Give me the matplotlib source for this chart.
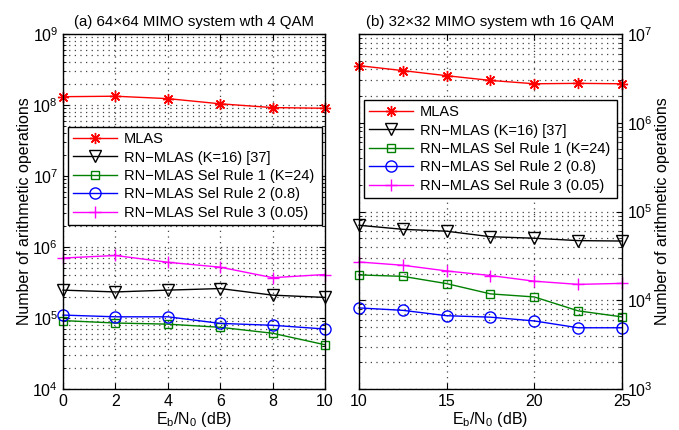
import numpy as np
import matplotlib
matplotlib.use('Agg')
import matplotlib.pyplot as plt
from matplotlib.ticker import LogLocator, LogFormatterMathtext, NullFormatter

plt.rcParams['font.family'] = ['Liberation Sans', 'DejaVu Sans']
plt.rcParams['mathtext.fontset'] = 'custom'
plt.rcParams['mathtext.rm'] = 'Liberation Sans'
plt.rcParams['mathtext.it'] = 'Liberation Sans:italic'

labels = ['MLAS', 'RN\u2212MLAS (K=16) [37]', 'RN\u2212MLAS Sel Rule 1 (K=24)',
          'RN\u2212MLAS Sel Rule 2 (0.8)', 'RN\u2212MLAS Sel Rule 3 (0.05)']

# (a) 64x64, 4-QAM
snr_a = [0, 2, 4, 6, 8, 10]
mlas_a = [1.31e8, 1.33e8, 1.23e8, 1.04e8, 9.2e7, 9.0e7]
rn_a = [2.47e5, 2.33e5, 2.47e5, 2.6e5, 2.1e5, 1.95e5]
rule1_a = [9.2e4, 8.5e4, 8.2e4, 7.4e4, 6.1e4, 4.2e4]
rule2_a = [1.1e5, 1.04e5, 1.04e5, 8.4e4, 7.9e4, 7.0e4]
rule3_a = [7.0e5, 7.6e5, 6.1e5, 5.2e5, 3.7e5, 4.1e5]

# (b) 32x32, 16-QAM
snr_b = [10, 12.5, 15, 17.5, 20, 22.5, 25]
mlas_b = [4.4e6, 3.87e6, 3.39e6, 3.0e6, 2.75e6, 2.78e6, 2.75e6]
rn_b = [7.0e4, 6.3e4, 6.0e4, 5.2e4, 5.0e4, 4.7e4, 4.65e4]
rule1_b = [1.93e4, 1.86e4, 1.54e4, 1.18e4, 1.09e4, 7.6e3, 6.5e3]
rule2_b = [8.2e3, 7.7e3, 6.7e3, 6.45e3, 5.85e3, 4.9e3, 4.9e3]
rule3_b = [2.7e4, 2.48e4, 2.14e4, 1.9e4, 1.64e4, 1.51e4, 1.55e4]

# asterisk = 8-spoke star marker
styles = [dict(color='#ff0000', marker=(8, 2, 0), mfc='#ff0000', ms=8),
          dict(color='black', marker='v', mfc='none', ms=8),
          dict(color='#008000', marker='s', mfc='none', ms=6),
          dict(color='#0000ff', marker='o', mfc='none', ms=8),
          dict(color='#ff00ff', marker='+', mfc='none', ms=9)]

GRID = dict(ls=(0, (1, 3.5)), lw=0.9, color='#444444')


def draw(ax, x, series, ylim, xticks, title):
    for y, st, lab in zip(series, styles, labels):
        ax.semilogy(x, y, lw=1.0, mew=1.0, clip_on=False, label=lab, **st)
    ax.set_xlim(x[0], x[-1])
    ax.set_ylim(*ylim)
    ax.set_xticks(xticks)
    ax.yaxis.set_major_locator(LogLocator(base=10, numticks=20))
    ax.yaxis.set_major_formatter(LogFormatterMathtext())
    ax.yaxis.set_minor_locator(LogLocator(base=10, subs=np.arange(2, 10), numticks=20))
    ax.yaxis.set_minor_formatter(NullFormatter())
    ax.grid(True, which='major', axis='both', **GRID)
    ax.grid(True, which='minor', axis='y', **GRID)
    ax.tick_params(which='both', direction='in', top=True, right=True, left=True,
                   labelsize=11.5)
    ax.tick_params(which='major', length=4)
    ax.tick_params(which='minor', length=2)
    for s in ax.spines.values():
        s.set_linewidth(1.0)
    ax.set_xlabel('E$_\\mathrm{b}$/N$_\\mathrm{0}$ (dB)', fontsize=11.5, labelpad=1)
    ax.set_title(title, fontsize=10.8, pad=6)


fig = plt.figure(figsize=(6.79, 4.30), dpi=100)
ax1 = fig.add_axes([0.0928, 0.0953, 0.3859, 0.8256])
ax2 = fig.add_axes([0.5287, 0.0953, 0.3873, 0.8256])

draw(ax1, snr_a, [mlas_a, rn_a, rule1_a, rule2_a, rule3_a], (1e4, 1e9),
     [0, 2, 4, 6, 8, 10], '(a) 64\u00d764 MIMO system wth 4 QAM')
draw(ax2, snr_b, [mlas_b, rn_b, rule1_b, rule2_b, rule3_b], (1e3, 1e7),
     [10, 15, 20, 25], '(b) 32\u00d732 MIMO system wth 16 QAM')

ax1.set_ylabel('Number of arithmetic operations', fontsize=11.5, labelpad=0)
ax2.yaxis.tick_right()
ax2.yaxis.set_label_position('right')
ax2.tick_params(which='both', left=True, right=True, labelleft=False, labelright=True)
ax2.set_ylabel('Number of arithmetic operations', fontsize=11.5, labelpad=2)

for ax, box in [(ax1, (0.019, 0.456, 0.97, 0.282)),
                (ax2, (0.019, 0.535, 0.962, 0.279))]:
    leg = ax.legend(loc='upper left', bbox_to_anchor=box, mode='expand',
                    fontsize=10.5, handlelength=3.0, labelspacing=0.3,
                    borderpad=0.35, handletextpad=0.5, fancybox=False,
                    framealpha=1, edgecolor='black', borderaxespad=0)
    leg.get_frame().set_linewidth(1.0)

fig.savefig('out.png', dpi=100)
